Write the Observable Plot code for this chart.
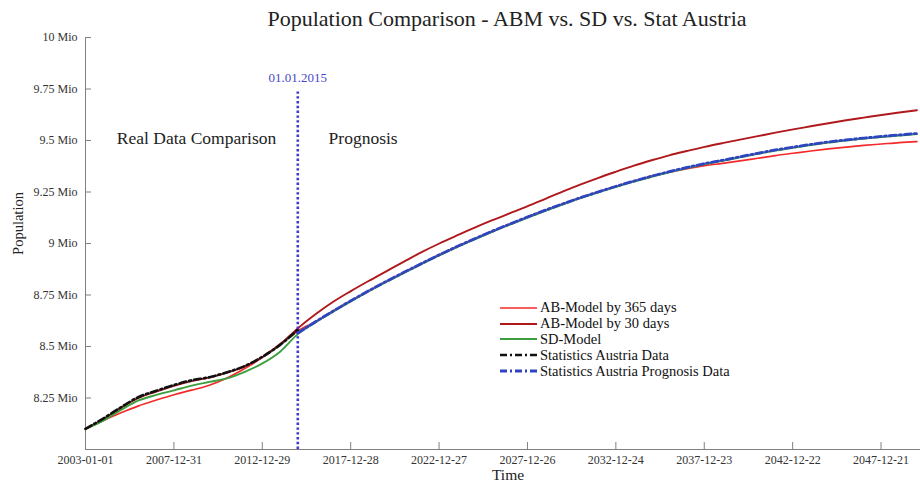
<!DOCTYPE html>
<html><head><meta charset="utf-8">
<script src="https://cdn.jsdelivr.net/npm/d3@7"></script>
<script src="https://cdn.jsdelivr.net/npm/@observablehq/plot@0.6"></script>
<style>
body{margin:0;background:#fff;}
#wrap{position:relative;width:920px;height:483px;overflow:hidden;}
#legend{position:absolute;left:500px;top:300px;font-family:"Liberation Serif",serif;font-size:14.5px;color:#111;}
#legend .row{display:flex;align-items:center;height:15.8px;white-space:nowrap;}
#legend svg{margin-right:3px;}
</style></head><body><div id="wrap"><div id="legend"></div></div>
<script>
// Years (values on 1 January), population in millions
const years = [2003,2004,2005,2006,2007,2008,2009,2010,2011,2012,2013,2014,2015,2016,2017,2018,2019,2020,2021,2022,2023,2024,2025,2026,2027,2028,2029,2030,2031,2032,2033,2034,2035,2036,2037,2038,2039,2040,2041,2042,2043,2044,2045,2046,2047,2048,2049,2050];

const ab365 = [8.100,8.140,8.178,8.212,8.240,8.266,8.288,8.312,8.347,8.393,8.447,8.512,8.575,
  8.620,8.672,8.722,8.770,8.816,8.860,8.903,8.945,8.985,9.023,9.060,9.095,9.129,9.162,9.193,9.223,9.251,9.278,9.303,9.327,
  9.346,9.363,9.378,9.389,9.401,9.414,9.427,9.438,9.449,9.459,9.468,9.476,9.483,9.490,9.495];

const ab30 = [8.100,8.147,8.202,8.250,8.281,8.309,8.332,8.349,8.373,8.404,8.449,8.510,8.588,
  8.656,8.717,8.769,8.818,8.865,8.912,8.958,9.000,9.039,9.077,9.113,9.147,9.181,9.217,9.253,9.287,9.319,9.349,9.378,9.404,
  9.428,9.449,9.469,9.487,9.504,9.521,9.538,9.554,9.569,9.584,9.598,9.611,9.624,9.636,9.647];

const sdModel = [8.100,8.140,8.192,8.238,8.265,8.287,8.310,8.328,8.345,8.377,8.418,8.475,8.560,
  8.617,8.669,8.719,8.767,8.813,8.857,8.900,8.942,8.982,9.020,9.057,9.092,9.126,9.159,9.190,9.220,9.248,9.275,9.300,9.324,
  9.346,9.366,9.385,9.401,9.418,9.435,9.451,9.465,9.478,9.490,9.500,9.509,9.517,9.524,9.531];

// Statistics Austria data 2003..2015
const statYears = years.slice(0, 13);
const statData = [8.100,8.150,8.205,8.255,8.285,8.313,8.336,8.351,8.375,8.405,8.450,8.508,8.580];

// Statistics Austria prognosis 2015..2050
const progYears = years.slice(12);
const statPrognosis = [8.565,8.620,8.672,8.722,8.770,8.816,8.860,8.903,8.945,8.985,9.023,9.060,9.095,9.129,9.162,9.193,9.223,9.251,9.278,9.303,9.327,9.349,9.369,9.388,9.404,9.421,9.438,9.454,9.468,9.481,9.493,9.503,9.512,9.520,9.527,9.534];

const yTicks = [8.25,8.5,8.75,9,9.25,9.5,9.75,10];
const xTickLabels = ["2003-01-01","2007-12-31","2012-12-29","2017-12-28","2022-12-27","2027-12-26","2032-12-24","2037-12-23","2042-12-22","2047-12-21"];
const xDomain = ["2003-01-01","2050-03-15"];
const yDomain = [8.0, 10.0];

const markerDate = "2015-01-01";
const markerLabel = "01.01.2015";
const markerTop = 9.745;
const markerLabelValue = 9.806;

const regionTexts = ["Real Data Comparison", "Prognosis"];
const regionDates = ["2009-04-11", "2016-09-28"];
const regionValues = [9.51, 9.51];

const title = "Population Comparison - ABM vs. SD vs. Stat Austria";
const seriesNames = ["AB-Model by 365 days","AB-Model by 30 days","SD-Model","Statistics Austria Data","Statistics Austria Prognosis Data"];

// ---- build
const D = s => new Date(s + "T00:00:00Z");
const Y = y => new Date(Date.UTC(y, 0, 1));
const rows = (ys, vs) => ys.map((y, i) => ({date: Y(y), v: vs[i]}));

const styles = [
  {color: "#f42a2a", width: 1.7, dash: null},
  {color: "#b0181c", width: 1.9, dash: null},
  {color: "#3c9e3c", width: 1.9, dash: null},
  {color: "#111111", width: 2.6, dash: "7,3,2,3"},
  {color: "#2f44c0", width: 2.8, dash: "7,3,2,3"}
];
const seriesData = [rows(years, ab365), rows(years, ab30), rows(years, sdModel), rows(statYears, statData), rows(progYears, statPrognosis)];

const serif = "Liberation Serif, serif";
const axisColor = "#808080";

const chart = Plot.plot({
  width: 920, height: 483,
  marginLeft: 85, marginRight: 0, marginTop: 37, marginBottom: 34,
  style: {fontFamily: serif, fontSize: "12px", color: "#222", background: "#fff"},
  x: {type: "utc", domain: xDomain.map(D), label: null},
  y: {domain: yDomain, label: null},
  marks: [
    Plot.ruleX([D(xDomain[0])], {stroke: axisColor, strokeWidth: 1}),
    Plot.ruleY([yDomain[0]], {stroke: axisColor, strokeWidth: 1}),
    Plot.axisY({ticks: yTicks, tickSize: 6, dx: 6, fill: "none", stroke: axisColor, label: null}),
    Plot.axisY({ticks: yTicks, tickSize: 0, tickPadding: 8, fill: "#333", label: null,
      tickFormat: d => `${+d.toFixed(2)} Mio`, fontSize: 12}),
    Plot.axisX({ticks: xTickLabels.map(D), tickSize: 7, dy: -7, fill: "none", stroke: axisColor, label: null}),
    Plot.axisX({ticks: xTickLabels.map(D), tickSize: 0, tickPadding: 6, fill: "#333", label: null,
      tickFormat: d3.utcFormat("%Y-%m-%d"), fontSize: 12}),
    ...seriesData.map((data, i) => Plot.line(data, {
      x: "date", y: "v", stroke: styles[i].color, strokeWidth: styles[i].width,
      strokeDasharray: styles[i].dash, curve: "monotone-x"
    })),
    Plot.ruleX([D(markerDate)], {y1: yDomain[0], y2: markerTop, stroke: "#3a3ad0", strokeWidth: 2.6, strokeDasharray: "2.4,2.4"}),
    Plot.text([markerLabel], {x: D(markerDate), y: markerLabelValue, text: d => d, fill: "#4848c8", fontSize: 13}),
    Plot.text([regionTexts[0]], {x: D(regionDates[0]), y: regionValues[0], text: d => d,
      textAnchor: "middle", fontSize: 17.5, fill: "#222"}),
    Plot.text([regionTexts[1]], {x: D(regionDates[1]), y: regionValues[1], text: d => d,
      textAnchor: "start", fontSize: 17.5, fill: "#222"}),
    Plot.text([title], {frameAnchor: "top", lineAnchor: "middle", textAnchor: "middle", dy: -19, dx: 4, text: d => d, fontSize: 22, fill: "#222"}),
    Plot.text(["Time"], {frameAnchor: "bottom", lineAnchor: "middle", textAnchor: "middle", dy: 25.5, dx: 5, text: d => d, fontSize: 15.5, fill: "#222"}),
    Plot.text(["Population"], {frameAnchor: "left", textAnchor: "middle", lineAnchor: "middle", dx: -67, dy: -20, rotate: -90, text: d => d, fontSize: 14.5, fill: "#222"})
  ]
});
document.getElementById("wrap").prepend(chart);

// legend
const legend = d3.select("#legend");
seriesNames.forEach((name, i) => {
  const row = legend.append("div").attr("class", "row");
  const svg = row.append("svg").attr("width", 37).attr("height", 6);
  svg.append("line").attr("x1", 0).attr("x2", 37).attr("y1", 3).attr("y2", 3)
    .attr("stroke", styles[i].color).attr("stroke-width", styles[i].width)
    .attr("stroke-dasharray", styles[i].dash);
  row.append("span").text(name);
});
</script></body></html>
